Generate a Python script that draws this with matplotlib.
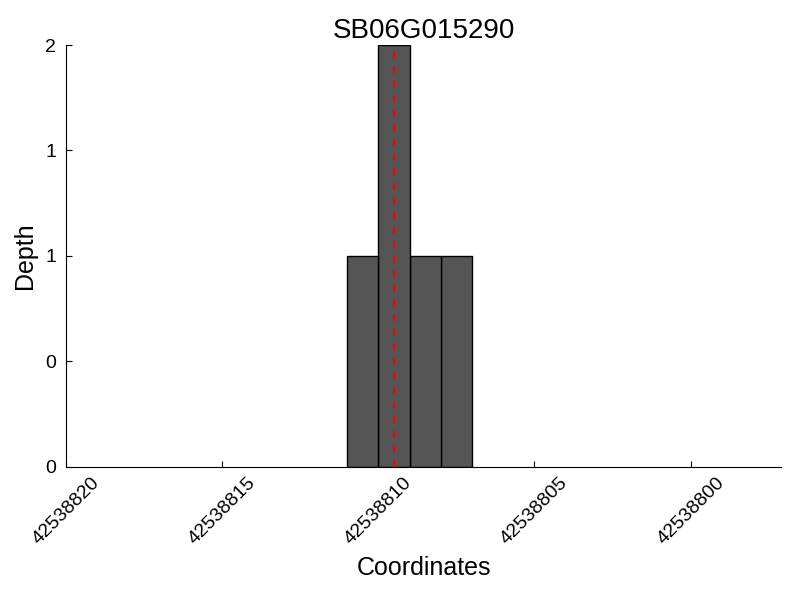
import matplotlib
matplotlib.use('Agg')
import matplotlib.pyplot as plt
from matplotlib.ticker import FormatStrFormatter, MultipleLocator

plt.rcParams['font.family'] = ['Liberation Sans', 'DejaVu Sans']

gene = 'SB06G015290'
# left edge of each 1-bp bin and its depth
positions = [42538807, 42538808, 42538809, 42538810]
depth = [1, 1, 2, 1]
site = 42538809.5
xlim = (42538820, 42538797.1)

fig = plt.figure(figsize=(8, 6), dpi=100)
ax = fig.add_axes([0.0825, 0.222, 0.894, 0.703])

ax.bar(positions, depth, width=1, align='edge', color='#555555',
       edgecolor='black', linewidth=1.0)
ax.axvline(site, color='red', linestyle='--', linewidth=1.5, dashes=(3.4, 3.6))

ax.set_xlim(xlim)
ax.set_ylim(0, 2)
ax.xaxis.set_major_locator(MultipleLocator(5))
ax.xaxis.set_major_formatter(FormatStrFormatter('%d'))
ax.yaxis.set_major_locator(MultipleLocator(0.5))
ax.yaxis.set_major_formatter(FormatStrFormatter('%d'))

ax.spines['top'].set_visible(False)
ax.spines['right'].set_visible(False)
ax.tick_params(direction='in', length=4, labelsize=14, top=False, right=False)
ax.tick_params(axis='y', pad=7)
ax.tick_params(axis='x', pad=5)
plt.setp(ax.get_xticklabels(), rotation=45)

ax.set_title(gene, fontsize=20, pad=5)
ax.set_xlabel('Coordinates', fontsize=18, labelpad=6)
ax.set_ylabel('Depth', fontsize=18, labelpad=6)

plt.savefig('out.png')
